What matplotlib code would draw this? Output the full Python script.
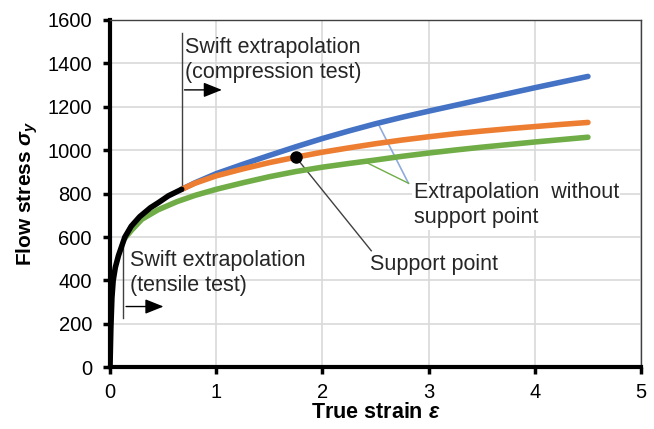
import numpy as np
import matplotlib
matplotlib.use("Agg")
import matplotlib.pyplot as plt

plt.rcParams['font.family'] = ['Liberation Sans', 'DejaVu Sans']
plt.rcParams['mathtext.fontset'] = 'custom'
plt.rcParams['mathtext.rm'] = 'Liberation Sans:bold'
plt.rcParams['mathtext.it'] = 'Liberation Sans:bold:italic'

# experimental curve (black)
exp_strain = [0, 0.008, 0.018, 0.03, 0.05, 0.08, 0.14, 0.2, 0.28, 0.38, 0.46, 0.55, 0.675]
exp_stress = [0, 180, 320, 400, 460, 515, 600, 650, 694, 735, 760, 790, 820]

# Swift extrapolation, compression test (blue)
comp_strain = [0.675, 0.8, 1.0, 1.25, 1.5, 1.75, 2.0, 2.25, 2.5, 2.75, 3.0, 3.25, 3.5, 3.75, 4.0, 4.25, 4.5]
comp_stress = [820, 850, 892, 935, 976, 1016, 1054, 1089, 1122, 1152, 1180, 1207, 1234, 1261, 1288, 1314, 1340]

# extrapolation with support point (orange)
supp_strain = [0.675, 0.8, 1.0, 1.25, 1.5, 1.75, 2.0, 2.25, 2.5, 2.75, 3.0, 3.25, 3.5, 3.75, 4.0, 4.25, 4.5]
supp_stress = [820, 848, 882, 914, 943, 968, 991, 1011, 1030, 1047, 1062, 1076, 1088, 1099, 1109, 1119, 1128]

# Swift extrapolation, tensile test (green)
tens_strain = [0.14, 0.2, 0.3, 0.45, 0.63, 0.8, 1.0, 1.25, 1.5, 1.75, 2.0, 2.25, 2.5, 2.75,
               3.0, 3.25, 3.5, 3.75, 4.0, 4.25, 4.5]
tens_stress = [595, 630, 682, 725, 763, 792, 820, 850, 878, 902, 922, 939, 955, 972,
               987, 1001, 1014, 1026, 1038, 1049, 1060]

support_pt = (1.75, 968)

x_ticks = [0, 1, 2, 3, 4, 5]
y_ticks = [0, 200, 400, 600, 800, 1000, 1200, 1400, 1600]

fig = plt.figure(figsize=(6.54, 4.29), dpi=100)
ax = fig.add_axes([0.1682, 0.1438, 0.812, 0.8096])

ax.plot(comp_strain, comp_stress, color='#4472C4', lw=4, solid_capstyle='round', solid_joinstyle='round', zorder=3)
ax.plot(supp_strain, supp_stress, color='#ED7D31', lw=4, solid_capstyle='round', solid_joinstyle='round', zorder=3)
ax.plot(tens_strain, tens_stress, color='#70AD47', lw=4, solid_capstyle='round', solid_joinstyle='round', zorder=3)
ax.plot(exp_strain, exp_stress, color='black', lw=4, solid_capstyle='round', solid_joinstyle='round', zorder=4)
ax.plot(*support_pt, 'o', color='black', ms=8, zorder=5)

ax.set_xlim(0, 5)
ax.set_ylim(0, 1600)
ax.set_xticks(x_ticks)
ax.set_yticks(y_ticks)
ax.grid(True, color='#d9d9d9', lw=1.2)
ax.set_axisbelow(True)
ax.tick_params(labelsize=14.5, width=2.5, length=5, direction='out')
ax.tick_params(axis='y', pad=8)
ax.tick_params(axis='x', pad=6)
for s in ['left', 'bottom']:
    ax.spines[s].set_linewidth(3)
    ax.spines[s].set_color('black')
for s in ['top', 'right']:
    ax.spines[s].set_linewidth(1)
    ax.spines[s].set_color('#404040')

ax.set_xlabel(r'True strain $\varepsilon$', fontsize=15.5, fontweight='bold', labelpad=0)
ax.set_ylabel(r'Flow stress $\sigma_y$', fontsize=15, fontweight='bold', labelpad=5)

txt = dict(fontsize=15.5, color='#262626', linespacing=1.27)
arrow = dict(arrowstyle='-|>,head_length=0.75,head_width=0.3', color='black', lw=1, mutation_scale=15)

# compression annotation
ax.plot([0.675, 0.675], [820, 1540], color='#404040', lw=1, zorder=2)
ax.annotate('', xy=(1.08, 1278), xytext=(0.675, 1278), arrowprops=arrow)
ax.text(0.71, 1522, 'Swift extrapolation\n(compression test)', va='top', ha='left', **txt)

# tensile annotation
ax.plot([0.125, 0.125], [600, 225], color='#404040', lw=1, zorder=2)
ax.annotate('', xy=(0.53, 280), xytext=(0.125, 280), arrowprops=arrow)
ax.text(0.19, 540, 'Swift extrapolation\n(tensile test)', va='top', ha='left', **txt)

# support point annotation
ax.plot([support_pt[0], 2.46], [support_pt[1], 537], color='#404040', lw=1, zorder=2)
ax.text(2.45, 472, 'Support point', va='center', ha='left', **txt)

# extrapolation without support point
ax.plot([2.53, 2.81], [1117, 848], color='#8FAADC', lw=1.2, zorder=2)
ax.plot([2.42, 2.81], [942, 848], color='#70AD47', lw=1, zorder=2)
ax.text(2.86, 853, 'Extrapolation  without\nsupport point', va='top', ha='left',
        bbox=dict(facecolor='white', edgecolor='none', pad=1), **txt)

fig.savefig('out.png', dpi=100)
